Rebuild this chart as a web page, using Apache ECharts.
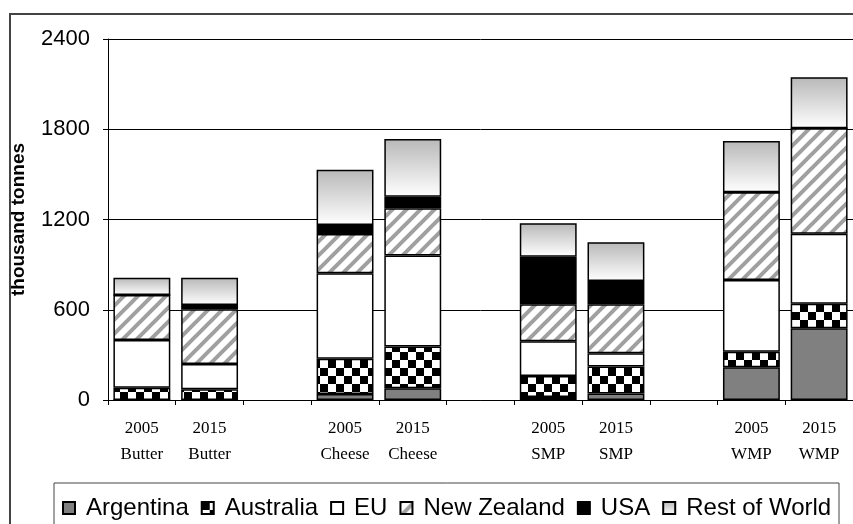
<!DOCTYPE html>
<html>
<head>
<meta charset="utf-8">
<script src="https://cdn.jsdelivr.net/npm/echarts@6/dist/echarts.min.js"></script>
<style>
  html, body { margin: 0; padding: 0; background: #fff; }
  #chart { width: 853px; height: 524px; }
</style>
</head>
<body>
<div id="chart"></div>
<script>
// categories (empty ones are the gaps between products)
var categories = ['2005\nButter', '2015\nButter', '', '2005\nCheese', '2015\nCheese', '',
                  '2005\nSMP', '2015\nSMP', '', '2005\nWMP', '2015\nWMP'];
// thousand tonnes
var argentina   = [0,   0,   null, 40,  78,  null, 20,  44,  null, 217, 477];
var australia   = [82,  71,  null, 235, 277, null, 140, 178, null, 104, 163];
var eu          = [317, 168, null, 567, 605, null, 230, 88,  null, 477, 466];
var newZealand  = [299, 364, null, 262, 314, null, 246, 326, null, 583, 700];
var usa         = [0,   29,  null, 60,  78,  null, 317, 155, null, 0,   0];
var restOfWorld = [115, 181, null, 367, 383, null, 222, 257, null, 341, 340];
var yTicks = [0, 600, 1200, 1800, 2400];

// fill patterns
function checker() {
    var c = document.createElement('canvas');
    c.width = 16; c.height = 16;
    var g = c.getContext('2d');
    g.fillStyle = '#fff'; g.fillRect(0, 0, 16, 16);
    g.fillStyle = '#000';
    g.fillRect(0, 0, 8, 8); g.fillRect(8, 8, 8, 8);
    return c;
}
function stripes() {
    var s = 14;
    var c = document.createElement('canvas');
    c.width = s; c.height = s;
    var g = c.getContext('2d');
    g.fillStyle = '#fff'; g.fillRect(0, 0, s, s);
    g.strokeStyle = '#a0a0a0'; g.lineWidth = 4;
    g.beginPath();
    g.moveTo(-2, s + 2); g.lineTo(s + 2, -2);
    g.moveTo(-2, 2); g.lineTo(2, -2);
    g.moveTo(s - 2, s + 2); g.lineTo(s + 2, s - 2);
    g.stroke();
    return c;
}

var border = { borderColor: '#000', borderWidth: 1.5 };
function mk(name, data, fill) {
    return {
        name: name, type: 'bar', stack: 'total', data: data,
        barWidth: '84%',
        itemStyle: Object.assign({ color: fill }, border)
    };
}

var option = {
    animation: false,
    backgroundColor: '#fff',
    grid: { left: 108, top: 39, width: 748, height: 361 },
    xAxis: {
        type: 'category',
        data: categories,
        axisLine: { lineStyle: { color: '#000', width: 1 } },
        axisTick: { show: true, length: 5, interval: 0, lineStyle: { color: '#000' } },
        axisLabel: {
            interval: 0, margin: 16, lineHeight: 26,
            fontFamily: 'Liberation Serif', fontSize: 17, color: '#000'
        }
    },
    yAxis: {
        type: 'value',
        min: yTicks[0], max: yTicks[yTicks.length - 1], interval: 600,
        name: 'thousand tonnes',
        nameLocation: 'middle', nameGap: 80, nameRotate: 90,
        nameTextStyle: { fontFamily: 'Liberation Sans', fontWeight: 'bold', fontSize: 19, color: '#000' },
        axisLine: { show: true, lineStyle: { color: '#000' } },
        axisTick: { show: true, length: 5, lineStyle: { color: '#000' } },
        axisLabel: {
            margin: 18, fontFamily: 'Liberation Sans', fontSize: 22, color: '#000',
            formatter: function (v) { return String(v); }
        },
        splitLine: { lineStyle: { color: '#000', width: 1 } }
    },
    legend: {
        left: 57, top: 491,
        icon: 'rect', itemWidth: 12, itemHeight: 12, itemGap: 12,
        textStyle: { fontFamily: 'Liberation Sans', fontSize: 24, color: '#000', padding: [0, 0, 0, 6] }
    },
    graphic: [
        { type: 'rect', shape: { x: 10, y: 14, width: 900, height: 600 },
          style: { fill: null, stroke: '#444', lineWidth: 2 } },
        { type: 'rect', shape: { x: 54, y: 483, width: 785, height: 100 },
          style: { fill: null, stroke: '#444', lineWidth: 1 } }
    ],
    series: [
        mk('Argentina', argentina, '#808080'),
        mk('Australia', australia, { image: checker(), repeat: 'repeat' }),
        mk('EU', eu, '#fff'),
        mk('New Zealand', newZealand, { image: stripes(), repeat: 'repeat' }),
        mk('USA', usa, '#000'),
        mk('Rest of World', restOfWorld, {
            type: 'linear', x: 0, y: 0, x2: 0, y2: 1,
            colorStops: [{ offset: 0, color: '#b8b8b8' }, { offset: 1, color: '#ffffff' }]
        })
    ]
};

var myChart = echarts.init(document.getElementById('chart'));
myChart.setOption(option);
</script>
</body>
</html>
